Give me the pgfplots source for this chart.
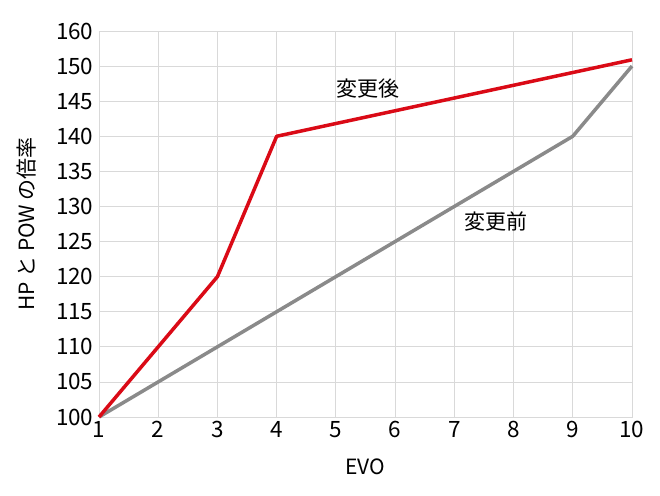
\documentclass[border=0pt]{standalone}
\usepackage{fontspec}
\setmainfont{Noto Sans CJK JP}
\usepackage{pgfplots}
\pgfplotsset{compat=1.18}

\definecolor{afterred}{RGB}{218,10,22}
\definecolor{beforegray}{RGB}{138,138,138}
\definecolor{gridgray}{RGB}{217,217,217}

\newcommand{\tl}{\fontsize{22.5}{25}\selectfont}

\begin{document}
\begin{tikzpicture}
\useasboundingbox (-99pt,-78pt) rectangle (561pt,417pt);
\begin{axis}[
  at={(0,0)}, anchor=south west,
  scale only axis,
  width=533pt, height=386pt,
  xmin=1, xmax=10,
  ymin=100, ymax=155,
  xtick={1,2,...,10},
  xticklabels={{\tl 1},{\tl 2},{\tl 3},{\tl 4},{\tl 5},{\tl 6},{\tl 7},{\tl 8},{\tl 9},{\tl 10}},
  ytick={100,105,...,155},
  yticklabels={{\tl 100},{\tl 105},{\tl 110},{\tl 115},{\tl 120},{\tl 125},{\tl 130},{\tl 135},{\tl 140},{\tl 145},{\tl 150},{\tl 160}},
  font=\fontsize{21}{24}\selectfont,
  tick style={draw=none},
  grid=major,
  major grid style={gridgray, line width=0.8pt},
  axis line style={gridgray, line width=0.8pt},
  xticklabel style={yshift=-1pt},
  yticklabel style={xshift=-2pt},
  xlabel={EVO},
  ylabel={HP と POW の倍率},
  every axis x label/.style={at={(axis description cs:0.5,0)}, anchor=center, yshift=-50pt},
  every axis y label/.style={at={(axis description cs:-0.135,0.5)}, anchor=center, rotate=90},
  clip=false,
]
\addplot[beforegray, line width=3.5pt, line join=round] coordinates {
  (1,100) (9,140) (10,150)
};
\addplot[afterred, line width=3.5pt, line join=round] coordinates {
  (1,100) (3,120) (4,140) (10,150.9)
};
\node at (axis cs:5.55,146.8) {変更後};
\node at (axis cs:7.7,127.8) {変更前};
\end{axis}
\end{tikzpicture}
\end{document}
